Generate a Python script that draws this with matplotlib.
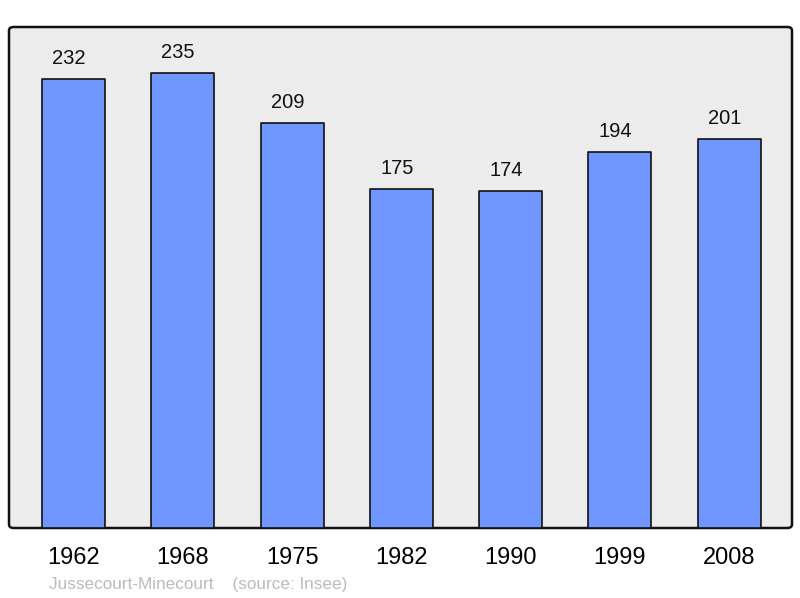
import matplotlib
matplotlib.use("Agg")
import matplotlib.pyplot as plt
from matplotlib.patches import FancyBboxPatch

years = ["1962", "1968", "1975", "1982", "1990", "1999", "2008"]
population = [232, 235, 209, 175, 174, 194, 201]

plt.rcParams['font.family'] = ['Liberation Sans', 'DejaVu Sans']

fig = plt.figure(figsize=(8, 5.98), dpi=100)
W, H = 800, 598
ax = fig.add_axes([9 / W, (H - 528) / H, 783 / W, 501 / H])
ax.set_facecolor('none')
ax.set_zorder(1)
# rounded frame background
frame = FancyBboxPatch((9 / W, (H - 528) / H), 783 / W, 501 / H,
                       boxstyle="round,pad=0,rounding_size=0.006",
                       transform=fig.transFigure, facecolor='#ececec',
                       edgecolor='#111111', linewidth=1.8, zorder=-1)
fig.patches.append(frame)

x = list(range(len(years)))
bars = ax.bar(x, population, width=0.576, color='#7097ff', edgecolor='#111111',
              linewidth=1.2, zorder=2)
for b in bars:
    b.set_joinstyle('round')
for xi, v in zip(x, population):
    ax.annotate(str(v), (xi, v), xytext=(-3.3, 8), textcoords='offset points',
                ha='center', va='bottom', fontsize=14.5, color='#111111')

ax.set_xlim(-0.59, 6.574)
ax.set_ylim(0, 258.8)
for s in ax.spines.values():
    s.set_visible(False)
ax.set_yticks([])
ax.set_xticks(x)
ax.set_xticklabels(years, fontsize=17)
ax.tick_params(axis='x', length=0, pad=14)

fig.text(49 / W, 1 - 584.5 / H, "Jussecourt-Minecourt    (source: Insee)",
         fontsize=12.3, color='#bbbbbb', ha='left', va='center')

fig.savefig("out.png", dpi=100)
